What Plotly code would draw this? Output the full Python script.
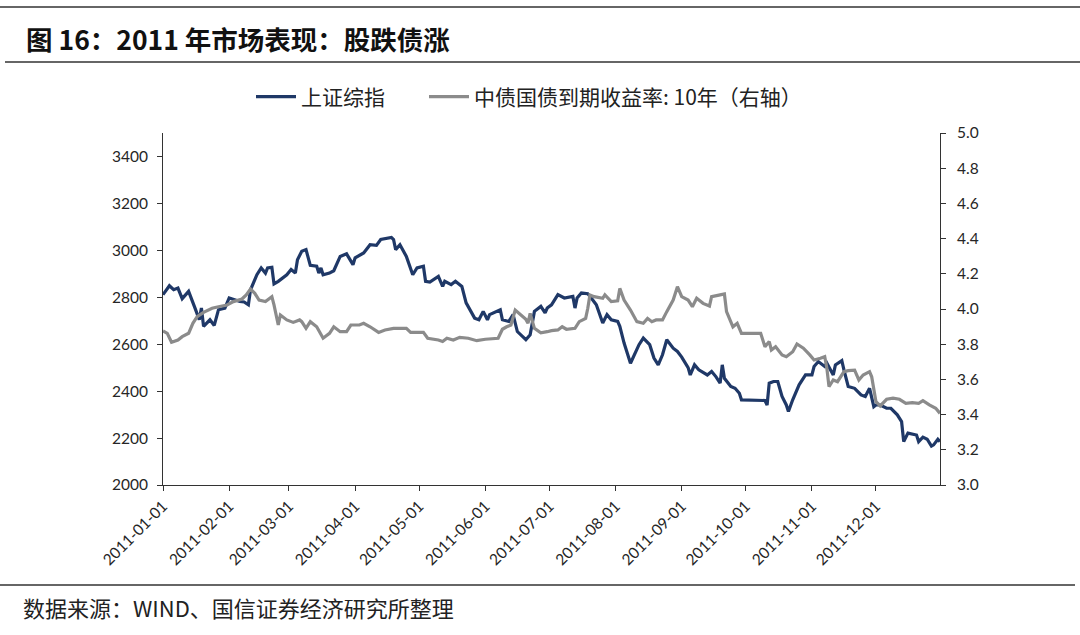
import plotly.graph_objects as go

# ---- data ----
sh_dates = ["2011-01-01","2011-01-04","2011-01-06","2011-01-08","2011-01-10","2011-01-13","2011-01-16","2011-01-18",
"2011-01-19","2011-01-20","2011-01-23","2011-01-25","2011-01-27","2011-01-30","2011-02-01","2011-02-03","2011-02-06",
"2011-02-08","2011-02-10","2011-02-11","2011-02-14","2011-02-16","2011-02-18","2011-02-19","2011-02-21","2011-02-22",
"2011-02-24","2011-02-28","2011-03-02","2011-03-04","2011-03-05","2011-03-07","2011-03-09","2011-03-11","2011-03-14",
"2011-03-15","2011-03-16","2011-03-17","2011-03-20","2011-03-22","2011-03-25","2011-03-28","2011-03-30","2011-03-31",
"2011-04-01","2011-04-05","2011-04-08","2011-04-11","2011-04-13","2011-04-15","2011-04-18","2011-04-19","2011-04-20",
"2011-04-22","2011-04-25","2011-04-28","2011-04-30","2011-05-03","2011-05-04","2011-05-06","2011-05-10","2011-05-12",
"2011-05-13","2011-05-16","2011-05-18","2011-05-21","2011-05-23","2011-05-27","2011-05-29","2011-05-31","2011-06-02",
"2011-06-03","2011-06-08","2011-06-09","2011-06-12","2011-06-14","2011-06-16","2011-06-20","2011-06-22","2011-06-24",
"2011-06-27","2011-06-29","2011-06-30","2011-07-02","2011-07-05","2011-07-08","2011-07-12","2011-07-13","2011-07-14",
"2011-07-16","2011-07-19","2011-07-20","2011-07-22","2011-07-23","2011-07-26","2011-07-28","2011-07-30","2011-08-02",
"2011-08-03","2011-08-05","2011-08-08","2011-08-11","2011-08-12","2011-08-14","2011-08-17","2011-08-19","2011-08-21",
"2011-08-23","2011-08-25","2011-08-28","2011-08-30","2011-09-01","2011-09-04","2011-09-05","2011-09-07","2011-09-09",
"2011-09-13","2011-09-15","2011-09-17","2011-09-19","2011-09-20","2011-09-21","2011-09-24","2011-09-26","2011-09-28",
"2011-09-29","2011-10-10","2011-10-11","2011-10-12","2011-10-14","2011-10-16","2011-10-18","2011-10-20","2011-10-21",
"2011-10-23","2011-10-26","2011-10-28","2011-10-29","2011-11-01","2011-11-02","2011-11-04","2011-11-07","2011-11-08",
"2011-11-11","2011-11-12","2011-11-15","2011-11-16","2011-11-18","2011-11-21","2011-11-24","2011-11-26","2011-11-28",
"2011-11-30","2011-12-01","2011-12-03","2011-12-06","2011-12-08","2011-12-11","2011-12-13","2011-12-14","2011-12-16",
"2011-12-18","2011-12-20","2011-12-21","2011-12-23","2011-12-25","2011-12-27","2011-12-28","2011-12-30","2011-12-31"]
sh_values = [2811,2849,2832,2839,2794,2825,2754,2704,2754,2676,2704,2680,2747,2754,2797,2790,2782,2780,2768,2832,
2896,2925,2903,2925,2928,2857,2868,2896,2918,2903,2960,2996,3003,2936,2932,2903,2925,2896,2903,2913,2974,2985,2953,
2939,2968,2989,3024,3021,3046,3050,3055,3046,3003,3024,2974,2896,2925,2932,2868,2865,2889,2846,2868,2854,2868,2846,
2776,2711,2704,2740,2704,2726,2747,2704,2697,2726,2654,2619,2640,2740,2761,2733,2754,2768,2811,2797,2804,2754,2797,
2818,2815,2804,2776,2768,2690,2726,2704,2697,2676,2605,2519,2576,2598,2626,2598,2541,2512,2555,2619,2583,2569,2545,
2500,2469,2512,2491,2469,2484,2462,2434,2512,2455,2420,2412,2391,2363,2360,2341,2434,2441,2441,2377,2341,2313,2363,
2427,2455,2469,2469,2505,2526,2505,2519,2469,2512,2530,2491,2420,2412,2384,2377,2412,2334,2341,2341,2327,2327,2299,
2270,2185,2221,2218,2213,2185,2204,2195,2166,2171,2195,2185]

bond_dates = ["2011-01-01","2011-01-03","2011-01-05","2011-01-08","2011-01-10","2011-01-13","2011-01-15","2011-01-17",
"2011-01-20","2011-01-24","2011-01-27","2011-01-31","2011-02-03","2011-02-07","2011-02-09","2011-02-11","2011-02-13",
"2011-02-15","2011-02-18","2011-02-21","2011-02-22","2011-02-24","2011-02-25","2011-02-28","2011-03-03","2011-03-06",
"2011-03-07","2011-03-09","2011-03-11","2011-03-14","2011-03-17","2011-03-20","2011-03-22","2011-03-25","2011-03-28",
"2011-03-30","2011-04-03","2011-04-05","2011-04-08","2011-04-12","2011-04-15","2011-04-19","2011-04-25","2011-04-27",
"2011-05-03","2011-05-05","2011-05-10","2011-05-12","2011-05-14","2011-05-17","2011-05-20","2011-05-24","2011-05-28",
"2011-06-01","2011-06-07","2011-06-09","2011-06-11","2011-06-13","2011-06-15","2011-06-17","2011-06-20","2011-06-21",
"2011-06-22","2011-06-24","2011-06-27","2011-06-30","2011-07-02","2011-07-05","2011-07-07","2011-07-09","2011-07-13",
"2011-07-15","2011-07-18","2011-07-19","2011-07-20","2011-07-22","2011-07-26","2011-07-27","2011-07-30","2011-08-02",
"2011-08-03","2011-08-05","2011-08-08","2011-08-11","2011-08-14","2011-08-16","2011-08-18","2011-08-20","2011-08-23",
"2011-08-25","2011-08-28","2011-08-30","2011-09-01","2011-09-04","2011-09-06","2011-09-08","2011-09-11","2011-09-14",
"2011-09-15","2011-09-19","2011-09-21","2011-09-22","2011-09-25","2011-09-27","2011-09-29","2011-10-08","2011-10-10",
"2011-10-12","2011-10-13","2011-10-15","2011-10-18","2011-10-20","2011-10-23","2011-10-25","2011-10-28","2011-10-31",
"2011-11-02","2011-11-05","2011-11-07","2011-11-08","2011-11-09","2011-11-11","2011-11-13","2011-11-16","2011-11-18",
"2011-11-21","2011-11-23","2011-11-25","2011-11-28","2011-11-29","2011-12-01","2011-12-03","2011-12-06","2011-12-09",
"2011-12-12","2011-12-15","2011-12-18","2011-12-21","2011-12-23","2011-12-26","2011-12-29","2011-12-31"]
bond_values = [3.875,3.862,3.811,3.824,3.843,3.862,3.919,3.956,3.981,4.004,4.013,4.023,4.042,4.057,4.080,4.114,4.089,
4.051,4.042,4.070,4.023,3.909,3.966,3.938,3.924,3.938,3.928,3.890,3.928,3.899,3.834,3.862,3.899,3.871,3.871,3.909,
3.909,3.919,3.899,3.867,3.881,3.890,3.890,3.867,3.867,3.834,3.824,3.815,3.834,3.824,3.839,3.834,3.820,3.828,3.834,
3.885,3.899,3.909,3.994,3.975,3.941,3.919,3.975,3.890,3.865,3.871,3.877,3.881,3.899,3.885,3.890,3.928,3.947,4.004,
4.080,4.070,4.061,4.080,4.042,4.047,4.117,4.051,3.994,3.928,3.919,3.947,3.928,3.938,3.938,3.985,4.051,4.127,4.070,
4.051,4.013,4.061,4.032,4.017,4.070,4.080,4.085,3.985,3.899,3.919,3.862,3.862,3.786,3.815,3.767,3.786,3.739,3.729,
3.757,3.801,3.777,3.739,3.710,3.720,3.729,3.663,3.559,3.597,3.587,3.644,3.650,3.653,3.597,3.625,3.644,3.615,3.473,
3.449,3.487,3.493,3.487,3.464,3.468,3.464,3.479,3.455,3.436,3.407]

tick_dates = ["2011-01-01","2011-02-01","2011-03-01","2011-04-01","2011-05-01","2011-06-01",
              "2011-07-01","2011-08-01","2011-09-01","2011-10-01","2011-11-01","2011-12-01"]
left_ticks = [2000, 2200, 2400, 2600, 2800, 3000, 3200, 3400]
right_ticks = [3.0, 3.2, 3.4, 3.6, 3.8, 4.0, 4.2, 4.4, 4.6, 4.8, 5.0]

series_names = ["上证综指", "中债国债到期收益率: 10年（右轴）"]
title_text = "图 16：2011 年市场表现：股跌债涨"
source_text = "数据来源：WIND、国信证券经济研究所整理"

NAVY = "#1f3867"
GRAY = "#8b8b8b"
TICKFONT = dict(family="Lato, Open Sans, sans-serif", size=15.5, color="#262626")
LEGFONT = dict(family="Noto Sans CJK SC", size=21, color="#222222")

fig = go.Figure()
fig.add_trace(go.Scatter(x=sh_dates, y=sh_values, name=series_names[0], mode="lines",
                         line=dict(color=NAVY, width=3.2), yaxis="y", legend="legend"))
fig.add_trace(go.Scatter(x=bond_dates, y=bond_values, name=series_names[1], mode="lines",
                         line=dict(color=GRAY, width=3.2), yaxis="y2", legend="legend2"))

W, H = 1080, 635
L, R, T, B = 163, 940, 133, 485
pw, ph = R - L, B - T

def px(x):
    return (x - L) / pw

def py(y):
    return (B - y) / ph

leg_common = dict(orientation="h", yanchor="middle", xanchor="left", font=LEGFONT,
                  itemwidth=40, bgcolor="rgba(0,0,0,0)", borderwidth=0)

fig.update_layout(
    width=W, height=H, autosize=False,
    margin=dict(l=L, r=W - R, t=T, b=H - B),
    paper_bgcolor="white", plot_bgcolor="white",
    showlegend=True,
    legend=dict(x=px(251), y=py(97), **leg_common),
    legend2=dict(x=px(424), y=py(97), **leg_common),
    xaxis=dict(type="date", range=["2011-01-01", "2011-12-31"],
               tickmode="array", tickvals=tick_dates, ticktext=tick_dates,
               tickangle=-45, ticks="outside", ticklen=5, tickcolor="#333",
               showline=True, linecolor="#333", linewidth=1,
               showgrid=False, zeroline=False, tickfont=TICKFONT),
    yaxis=dict(range=[2000, 3500], tickmode="array", tickvals=left_ticks,
               ticks="outside", ticklen=5, tickcolor="#333", ticklabelstandoff=6,
               showline=True, linecolor="#333", linewidth=1,
               showgrid=False, zeroline=False, tickfont=TICKFONT),
    yaxis2=dict(range=[3.0, 5.0], tickmode="array", tickvals=right_ticks, tickformat=".1f",
                overlaying="y", side="right", anchor="x",
                ticks="outside", ticklen=5, tickcolor="#333", ticklabelstandoff=8,
                showline=True, linecolor="#333", linewidth=1,
                showgrid=False, zeroline=False, tickfont=TICKFONT),
)

# rules
for yy, x0, x1 in [(7, 0, 1080), (62, 5, 1080), (585, 0, 1075)]:
    fig.add_shape(type="line", xref="paper", yref="paper",
                  x0=px(x0), x1=px(x1), y0=py(yy), y1=py(yy),
                  line=dict(color="#333", width=1.3))

fig.add_annotation(text=title_text, xref="paper", yref="paper", x=px(24), y=py(38),
                   xanchor="left", yanchor="middle", showarrow=False,
                   font=dict(family="Noto Sans CJK SC", size=26.5, color="#111111", weight="bold"))
fig.add_annotation(text=source_text, xref="paper", yref="paper", x=px(21), y=py(607),
                   xanchor="left", yanchor="middle", showarrow=False,
                   font=dict(family="Noto Sans CJK SC", size=22, color="#222222"))

fig.write_html("out.html", config={"displayModeBar": False},
               post_script="document.body.style.margin='0';document.body.style.padding='0';")
